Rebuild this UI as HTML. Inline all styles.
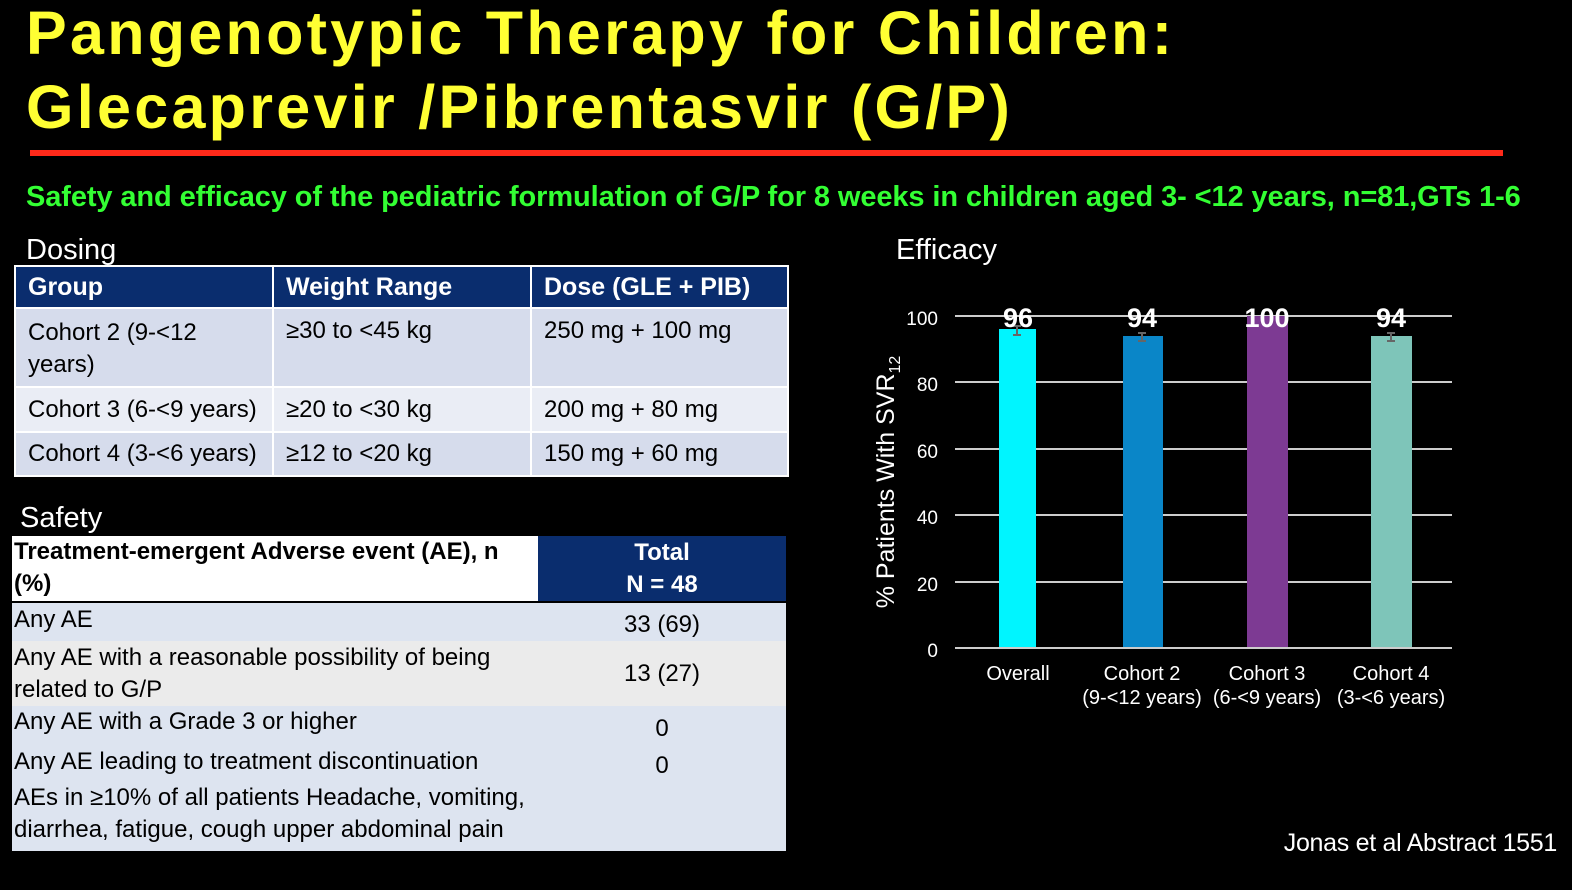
<!DOCTYPE html>
<html><head><meta charset="utf-8"><style>
body{margin:0;width:1572px;height:890px;background:#000;position:relative;overflow:hidden;font-family:"Liberation Sans",sans-serif}
.a{position:absolute;white-space:nowrap}
.t{color:#ffff33;font-weight:bold;font-size:61px;letter-spacing:3.3px;left:26px;line-height:1}
.n{font-family:"Liberation Sans Narrow","Liberation Sans",sans-serif}
table{border-collapse:collapse;position:absolute}
#d td{border:2px solid #fff;color:#000;font-size:24px;padding:0 12px;vertical-align:top}
#d th{border:2px solid #fff;background:#0a2d6e;color:#fff;font-size:25px;text-align:left;padding:0 12px;height:40px}
#s td{font-size:24px;color:#000;padding:0 2px;line-height:32px}
</style></head><body>
<div class="a t" style="top:3px">Pangenotypic Therapy for Children:</div>
<div class="a t" style="top:77px">Glecaprevir /Pibrentasvir (G/P)</div>
<div class="a" style="left:30px;top:150px;width:1473px;height:6px;background:#ff2a1a"></div>
<div class="a" style="left:26px;top:181px;color:#33ff33;font-size:29px;font-weight:bold;letter-spacing:-0.1px">Safety and efficacy of the pediatric formulation of G/P for 8 weeks in children aged 3- &lt;12 years, n=81,GTs 1-6</div>
<div class="a" style="left:26px;top:234px;color:#fff;font-size:29px">Dosing</div>
<table id="d" class="n" style="left:14px;top:265px;width:775px">
<tr><th style="width:232px">Group</th><th style="width:232px">Weight Range</th><th>Dose (GLE + PIB)</th></tr>
<tr style="background:#d6dcec;height:79px"><td style="padding-top:8px;line-height:32px">Cohort 2 (9-&lt;12<br>years)</td><td style="padding-top:8px">≥30 to &lt;45 kg</td><td style="padding-top:8px">250 mg + 100 mg</td></tr>
<tr style="background:#eaedf5;height:45px"><td style="vertical-align:middle">Cohort 3 (6-&lt;9 years)</td><td style="vertical-align:middle">≥20 to &lt;30 kg</td><td style="vertical-align:middle">200 mg + 80 mg</td></tr>
<tr style="background:#d6dcec;height:44px"><td style="vertical-align:middle">Cohort 4 (3-&lt;6 years)</td><td style="vertical-align:middle">≥12 to &lt;20 kg</td><td style="vertical-align:middle">150 mg + 60 mg</td></tr>
</table>
<div class="a" style="left:20px;top:502px;color:#fff;font-size:29px">Safety</div>
<table id="s" class="n" style="left:12px;top:536px;width:774px">
<tr style="height:66px"><td style="background:#fff;font-weight:bold;width:522px;border-bottom:2px solid #000;line-height:32px;vertical-align:top">Treatment-emergent Adverse event (AE), n<br>(%)</td><td style="background:#0a2d6e;color:#fff;font-weight:bold;text-align:center;border-bottom:2px solid #000">Total<br>N = 48</td></tr>
<tr style="background:#dde4f0;height:38px"><td style="vertical-align:top;line-height:34px">Any AE</td><td style="text-align:center;padding-top:6px">33 (69)</td></tr>
<tr style="background:#ebebeb;height:65px"><td>Any AE with a reasonable possibility of being<br>related to G/P</td><td style="text-align:center">13 (27)</td></tr>
<tr style="background:#dde4f0;height:40px"><td style="vertical-align:top">Any AE with a Grade 3 or higher</td><td style="text-align:center;padding-top:6px">0</td></tr>
<tr style="background:#dde4f0;height:34px"><td style="vertical-align:top">Any AE leading to treatment discontinuation</td><td style="text-align:center;vertical-align:top;padding-top:4px">0</td></tr>
<tr style="background:#dde4f0;height:69px"><td style="vertical-align:top">AEs in ≥10% of all patients Headache, vomiting,<br>diarrhea, fatigue, cough upper abdominal pain</td><td></td></tr>
</table>
<div class="a" style="left:896px;top:234px;color:#fff;font-size:29px">Efficacy</div>
<svg class="a" style="left:0;top:0" width="1572" height="890" font-family="Liberation Sans, sans-serif">
<g stroke="#ccc" stroke-width="2">
<line x1="955" x2="1452" y1="316" y2="316"/><line x1="955" x2="1452" y1="382" y2="382"/><line x1="955" x2="1452" y1="449" y2="449"/><line x1="955" x2="1452" y1="515" y2="515"/><line x1="955" x2="1452" y1="582" y2="582"/><line x1="955" x2="1452" y1="648" y2="648"/></g>
<g fill="#fff" font-size="19" text-anchor="end"><text x="938" y="325">100</text><text x="938" y="391">80</text><text x="938" y="458">60</text><text x="938" y="524">40</text><text x="938" y="591">20</text><text x="938" y="657">0</text></g>
<rect x="999" y="329" width="37" height="318" fill="#00f5ff"/>
<rect x="1123" y="336" width="40" height="311" fill="#0a86c8"/>
<rect x="1247" y="316" width="41" height="331" fill="#7d3a93"/>
<rect x="1371" y="336" width="41" height="311" fill="#7ec5b9"/>
<g stroke="#666" stroke-width="2" fill="none"><path d="M1013 326h8M1017 326v9M1013 335h8"/><path d="M1138 333h8M1142 333v8M1138 341h8"/><path d="M1387 333h8M1391 333v8M1387 341h8"/></g>
<g fill="#fff" font-size="27" font-weight="bold" text-anchor="middle"><text x="1018" y="327">96</text><text x="1142" y="327">94</text><text x="1267" y="327">100</text><text x="1391" y="327">94</text></g>
<g fill="#fff" font-size="20" text-anchor="middle"><text x="1018" y="680">Overall</text><text x="1142" y="680">Cohort 2</text><text x="1142" y="704">(9-&lt;12 years)</text><text x="1267" y="680">Cohort 3</text><text x="1267" y="704">(6-&lt;9 years)</text><text x="1391" y="680">Cohort 4</text><text x="1391" y="704">(3-&lt;6 years)</text></g>
<text transform="translate(894,482) rotate(-90)" fill="#fff" font-size="25" text-anchor="middle">% Patients With SVR<tspan font-size="16" dy="6">12</tspan></text>
<text x="1557" y="851" fill="#fff" font-size="25" letter-spacing="-0.3" text-anchor="end">Jonas et al Abstract 1551</text>
</svg>
</body></html>
